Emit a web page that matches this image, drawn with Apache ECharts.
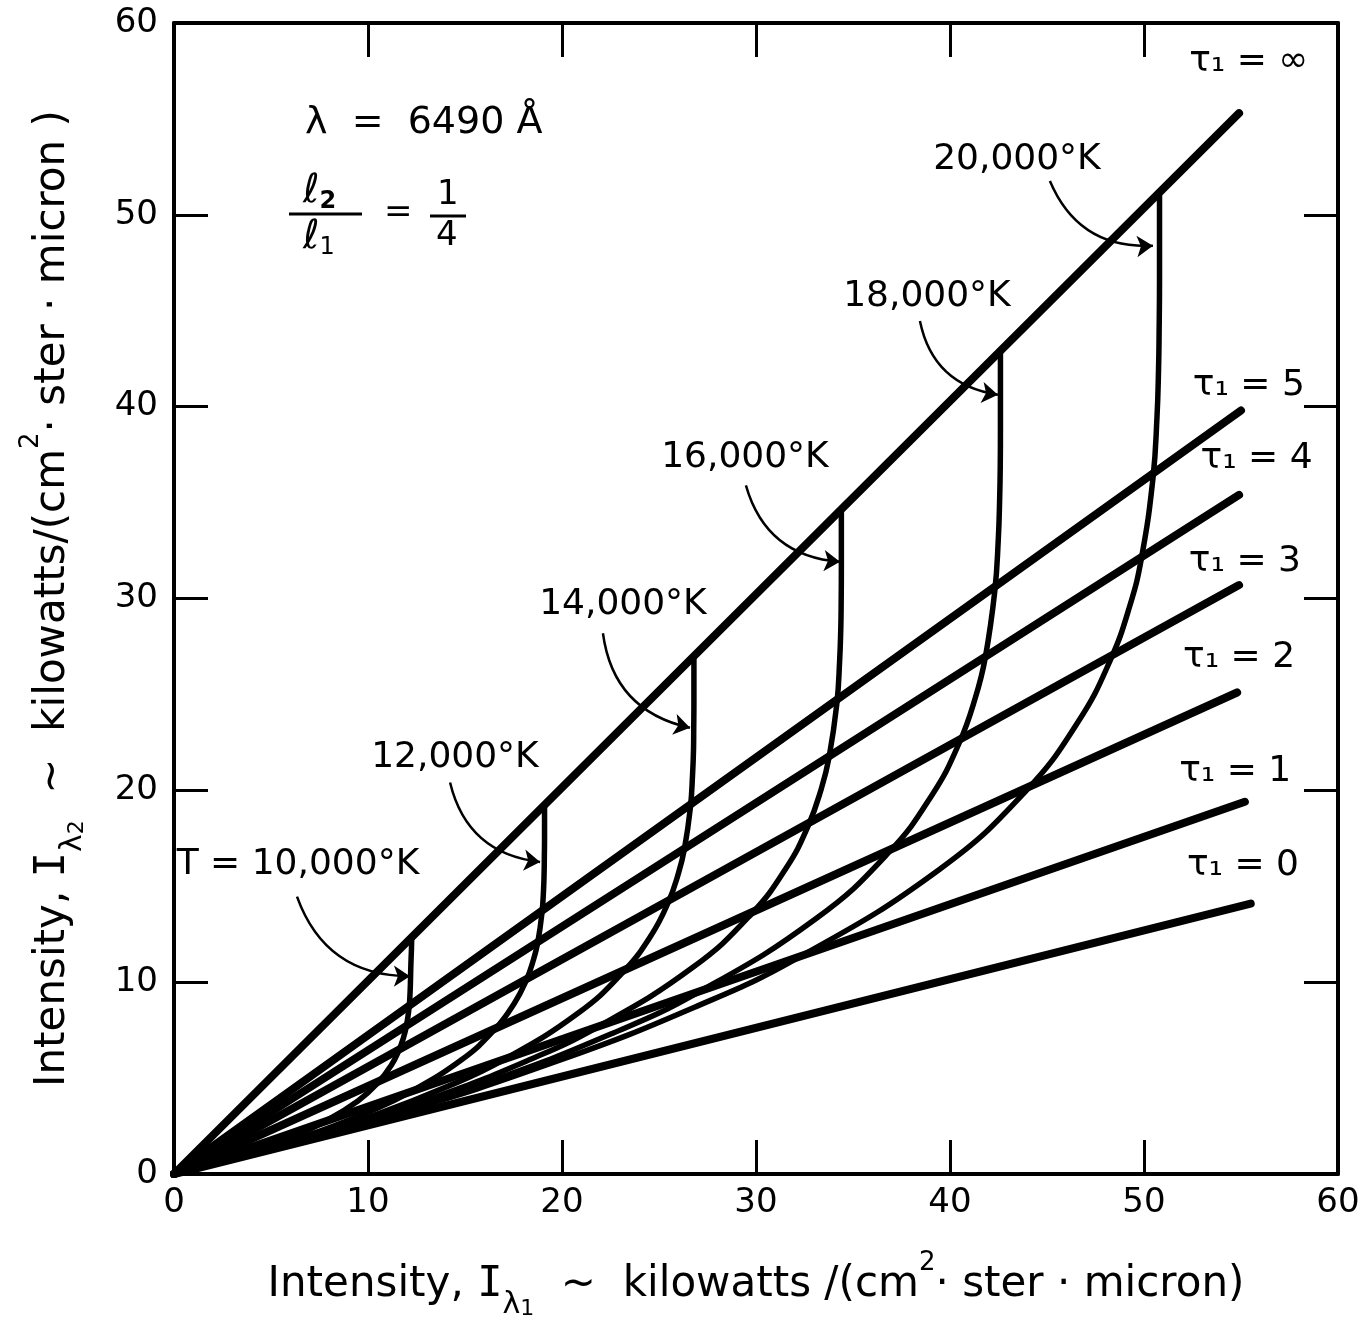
<!DOCTYPE html>
<html><head><meta charset="utf-8">
<script src="https://cdn.jsdelivr.net/npm/echarts@6/dist/echarts.min.js"></script>
<style>html,body{margin:0;padding:0;background:#fff}#c{width:1366px;height:1325px}</style>
</head><body><div id="c"></div>
<script>
// ---- data ----
const tauNames = ['τ₁ = 0','τ₁ = 1','τ₁ = 2','τ₁ = 3','τ₁ = 4','τ₁ = 5','τ₁ = ∞'];
const tauLineEnds = [[55.5,14.1],[55.2,19.4],[54.8,25.1],[54.9,30.7],[54.9,35.4],[55.0,39.8],[54.9,55.3]];
const tauLabelPos = [[55.1,16.1],[54.7,21.0],[54.9,26.9],[55.2,31.9],[55.8,37.3],[55.4,41.1],[55.4,58.0]];

const curve10000 = [[0,0],[2.70,0.74],[4.80,1.43],[6.44,2.08],[7.71,2.70],[9.48,3.81],[10.55,4.80],[11.20,5.67],[11.59,6.44],[11.83,7.11],[11.98,7.71],[12.12,8.70],[12.17,9.48],[12.19,10.08],[12.20,10.55],[12.22,11.20],[12.24,11.73],[12.25,12.30]];
const curve12000 = [[0,0],[4.22,1.16],[7.52,2.24],[10.08,3.26],[12.07,4.22],[14.84,5.97],[16.52,7.52],[17.53,8.88],[18.15,10.08],[18.52,11.14],[18.75,12.07],[18.97,13.63],[19.05,14.84],[19.08,15.78],[19.09,16.52],[19.10,17.53],[19.10,18.36],[19.10,19.23]];
const curve14000 = [[0,0],[5.93,1.62],[10.55,3.15],[14.14,4.58],[16.94,5.93],[20.82,8.38],[23.17,10.55],[24.60,12.45],[25.47,14.14],[25.99,15.63],[26.31,16.94],[26.62,19.12],[26.73,20.82],[26.78,22.14],[26.79,23.17],[26.80,24.60],[26.80,25.76],[26.80,26.98]];
const curve16000 = [[0,0],[7.61,2.08],[13.54,4.04],[18.15,5.88],[21.74,7.61],[26.73,10.76],[29.75,13.54],[31.58,15.99],[32.69,18.15],[33.36,20.06],[33.77,21.74],[34.17,24.54],[34.31,26.73],[34.37,28.42],[34.39,29.75],[34.40,31.58],[34.40,33.07],[34.40,34.64]];
const curve18000 = [[0,0],[9.42,2.58],[16.76,5.01],[22.48,7.28],[26.93,9.42],[33.10,13.32],[36.84,16.76],[39.10,19.80],[40.48,22.48],[41.31,24.84],[41.82,26.93],[42.31,30.40],[42.49,33.10],[42.56,35.20],[42.59,36.84],[42.60,39.10],[42.60,40.95],[42.60,42.90]];
const curve20000 = [[0,0],[11.24,3.08],[19.99,5.97],[26.80,8.68],[32.11,11.24],[39.47,15.89],[43.93,19.99],[46.63,23.61],[48.27,26.80],[49.27,29.62],[49.87,32.11],[50.46,36.25],[50.67,39.47],[50.75,41.97],[50.78,43.93],[50.80,46.63],[50.80,48.83],[50.80,51.15]];
const curves = [curve10000, curve12000, curve14000, curve16000, curve18000, curve20000];

const tempNames = ['T = 10,000°K','12,000°K','14,000°K','16,000°K','18,000°K','20,000°K'];
const tempLabelPos = [[6.39,16.11],[14.48,21.71],[23.14,29.69],[29.43,37.36],[38.81,45.75],[43.45,52.9]];
const arrowStart = [[6.34,14.46],[14.23,20.41],[22.11,28.19],[29.48,35.90],[38.45,44.46],[45.15,51.76]];
const arrowEnd = [[12.16,10.31],[18.87,16.27],[26.60,23.26],[34.33,31.92],[42.47,40.62],[50.46,48.39]];

const FONT = 'DejaVu Sans';
const chart = echarts.init(document.getElementById('c'), null, {renderer:'canvas'});

const axisCommon = {
  type:'value', min:0, max:60, interval:10,
  axisLine:{show:true, onZero:false, lineStyle:{color:'#000', width:4}},
  axisTick:{show:true, inside:true, length:34, lineStyle:{color:'#000', width:3}},
  splitLine:{show:false}
};

const series = [];
tauLineEnds.forEach((e,i)=>{
  series.push({type:'line', name:tauNames[i], data:[[0,0], e], symbol:'none', silent:true,
    lineStyle:{color:'#000', width:8, cap:'round'}, z:3});
});
curves.forEach((c,i)=>{
  series.push({type:'line', name:tempNames[i], data:c, symbol:'none', silent:true, smooth:0.45,
    lineStyle:{color:'#000', width:5.5, cap:'round', join:'round'}, z:3});
});
series.push({type:'lines', coordinateSystem:'cartesian2d', silent:true, z:4,
  data: arrowStart.map((s,i)=>({coords:[s, arrowEnd[i]]})),
  lineStyle:{color:'#000', width:2.5, curveness:-0.35, opacity:1},
  symbol:['none','arrow'], symbolSize:[0,16]});
series.push({type:'scatter', silent:true, symbolSize:1, itemStyle:{color:'transparent', opacity:1}, z:6,
  data: tempLabelPos.map((p,i)=>({value:p, label:{formatter:tempNames[i]}})),
  label:{show:true, position:'inside', color:'#000', opacity:1, fontSize:36, fontFamily:FONT}});
series.push({type:'scatter', silent:true, symbolSize:1, itemStyle:{color:'transparent', opacity:1}, z:6,
  data: tauLabelPos.map((p,i)=>({value:p, label:{formatter:tauNames[i]}})),
  label:{show:true, position:'inside', color:'#000', opacity:1, fontSize:36, fontFamily:FONT}});

const titleRich = {
  n:{fontSize:42, fontFamily:FONT, color:'#000', lineHeight:70},
  i:{fontSize:42, fontFamily:'DejaVu Sans Mono', color:'#000', lineHeight:70},
  s:{fontSize:30, fontFamily:FONT, color:'#000', lineHeight:30, verticalAlign:'bottom'},
  ss:{fontSize:22, fontFamily:FONT, color:'#000', lineHeight:14, verticalAlign:'bottom'},
  p:{fontSize:26, fontFamily:FONT, color:'#000', lineHeight:26, verticalAlign:'top'}
};

chart.setOption({
  animation:false,
  backgroundColor:'#fff',
  grid:{left:174, right:28, top:23, bottom:144},
  xAxis:[
    Object.assign({}, axisCommon, {position:'bottom',
      axisLabel:{show:true, color:'#000', fontSize:34, fontFamily:FONT, margin:12},
      name:'{n|Intensity, }{i|I}{s|λ}{ss|1}{n|  ~  kilowatts /(cm}{p|2}{n|· ster · micron)}',
      nameLocation:'middle', nameGap:76, nameTextStyle:{rich:titleRich}}),
    Object.assign({}, axisCommon, {position:'top', axisLabel:{show:false}})
  ],
  yAxis:[
    Object.assign({}, axisCommon, {position:'left',
      axisLabel:{show:true, color:'#000', fontSize:34, fontFamily:FONT, margin:16},
      name:'{n|Intensity, }{i|I}{s|λ}{ss|2}{n|  ~  kilowatts/(cm}{p|2}{n|· ster · micron )}',
      nameLocation:'middle', nameGap:86, nameRotate:90, nameTextStyle:{rich:titleRich}}),
    Object.assign({}, axisCommon, {position:'right', axisLabel:{show:false}})
  ],
  graphic:[
    {type:'text', left:305, top:104, style:{text:'λ  =  6490 Å', font:'38px "DejaVu Sans"', fill:'#000'}},
    {type:'text', left:303, top:172, style:{text:'{l|ℓ}{s|2}', rich:{l:{font:'italic 40px "DejaVu Sans"', fill:'#000', lineHeight:44}, s:{font:'bold 24px "DejaVu Sans"', fill:'#000', lineHeight:26, verticalAlign:'bottom'}}}},
    {type:'line', shape:{x1:289, y1:214, x2:362, y2:214}, style:{stroke:'#000', lineWidth:3}},
    {type:'text', left:303, top:218, style:{text:'{l|ℓ}{s|1}', rich:{l:{font:'italic 40px "DejaVu Sans"', fill:'#000', lineHeight:44}, s:{font:'24px "DejaVu Sans"', fill:'#000', lineHeight:22, verticalAlign:'bottom'}}}},
    {type:'text', left:384, top:196, style:{text:'=', font:'34px "DejaVu Sans"', fill:'#000'}},
    {type:'text', left:437, top:178, style:{text:'1', font:'34px "DejaVu Sans"', fill:'#000'}},
    {type:'line', shape:{x1:430, y1:216, x2:466, y2:216}, style:{stroke:'#000', lineWidth:3}},
    {type:'text', left:436, top:219, style:{text:'4', font:'34px "DejaVu Sans"', fill:'#000'}}
  ],
  series: series
});
</script></body></html>
